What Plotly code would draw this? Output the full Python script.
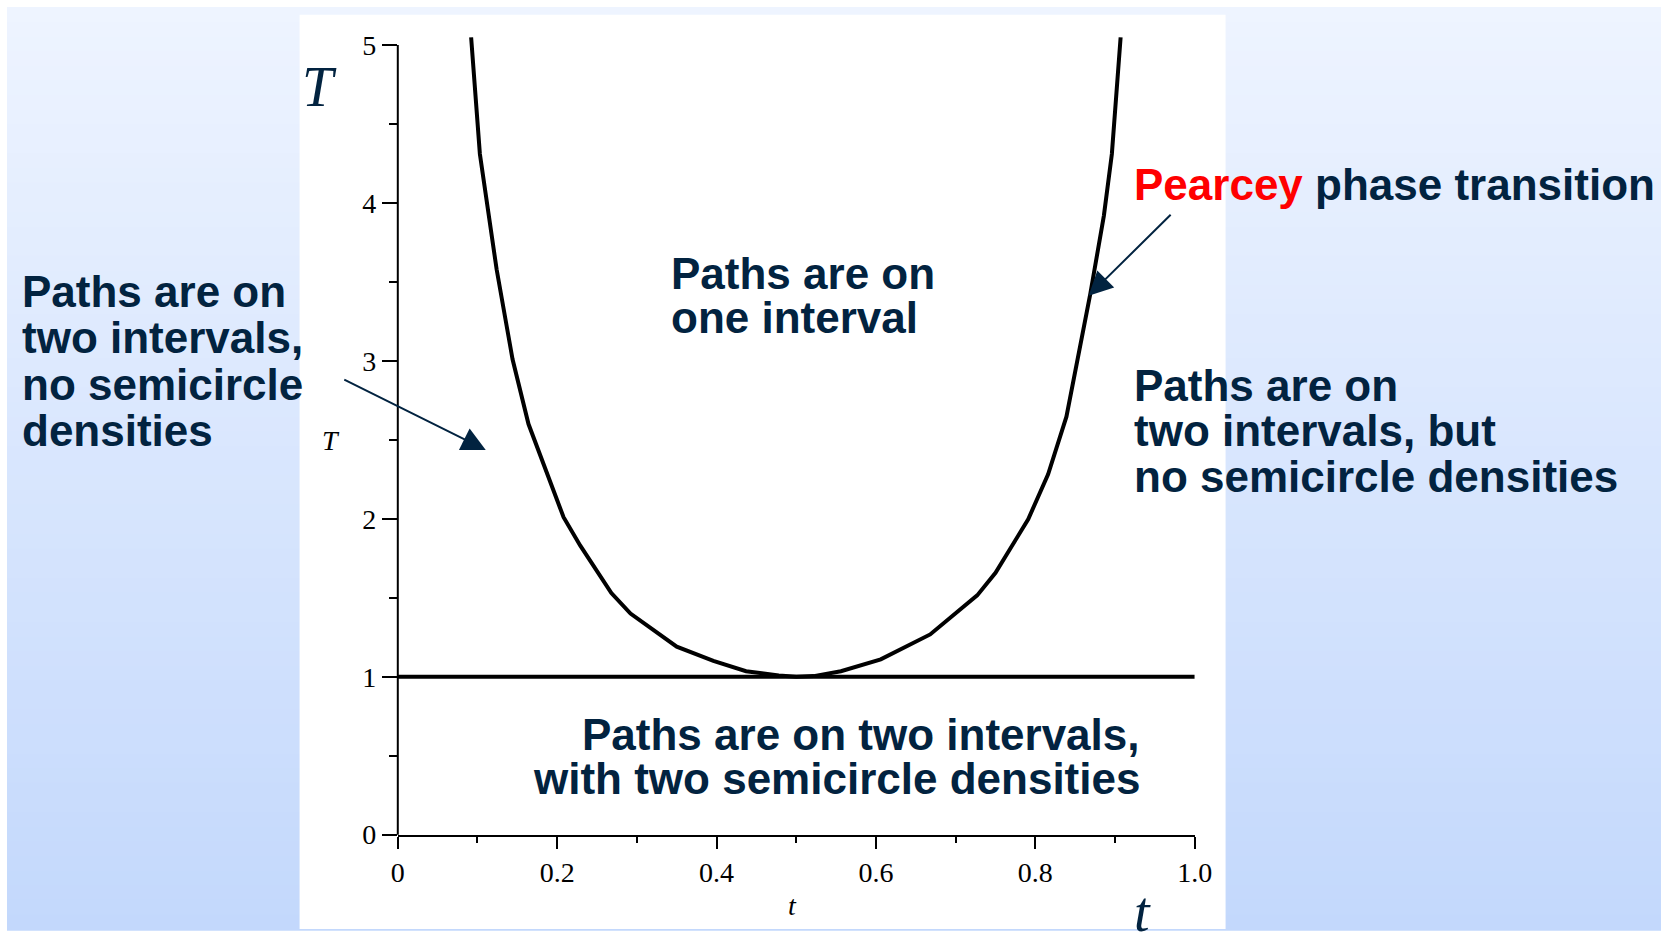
import plotly.graph_objects as go

W, H = 1679, 945

# Phase boundary T(t): the U-shaped curve
curve_t = [0.092, 0.103, 0.124, 0.144, 0.164, 0.208, 0.229, 0.268, 0.292, 0.350,
           0.396, 0.437, 0.478, 0.500, 0.522, 0.556, 0.606, 0.668, 0.727, 0.750,
           0.791, 0.816, 0.839, 0.853, 0.869, 0.886, 0.896, 0.907]
curve_T = [5.05, 4.31, 3.58, 3.01, 2.60, 2.01, 1.83, 1.53, 1.40, 1.19,
           1.10, 1.035, 1.008, 1.000, 1.004, 1.035, 1.11, 1.268, 1.515, 1.658,
           1.997, 2.282, 2.647, 3.01, 3.426, 3.92, 4.31, 5.05]

# Critical line T = 1
crit_t = [0.0, 1.0]
crit_T = [1.0, 1.0]

x_tickvals = [0, 0.2, 0.4, 0.6, 0.8, 1.0]
x_ticktext = ["0", "0.2", "0.4", "0.6", "0.8", "1.0"]
y_tickvals = [0, 1, 2, 3, 4, 5]
y_ticktext = ["0", "1", "2", "3", "4", "5"]

T_MAX = 5.05
NAVY = "#022340"
SANS = "Liberation Sans, Arial, sans-serif"
SERIF = "Liberation Serif, Times New Roman, serif"

fig = go.Figure()
fig.add_trace(go.Scatter(x=crit_t, y=crit_T, mode="lines",
                         line=dict(color="black", width=4), hoverinfo="skip"))
fig.add_trace(go.Scatter(x=curve_t, y=curve_T, mode="lines",
                         line=dict(color="black", width=4), hoverinfo="skip"))

# slide background: vertical blue gradient plus the white plot panel
top_rgb = (238, 244, 255)
bot_rgb = (195, 216, 252)
n_bands = 63
shapes = []
for i in range(n_bands):
    f = (i + 0.5) / n_bands
    c = tuple(round(a + (b - a) * f) for a, b in zip(top_rgb, bot_rgb))
    shapes.append(dict(type="rect", xref="paper", yref="paper", layer="below",
                       x0=0, x1=1, y0=1 - (i + 1) / n_bands - 0.002, y1=1 - i / n_bands,
                       fillcolor="rgb(%d,%d,%d)" % c, line=dict(width=0)))
shapes.append(dict(type="rect", xref="paper", yref="paper", layer="below",
                   x0=297 / W, x1=1237 / W, y0=0, y1=1 - 8 / H,
                   fillcolor="white", line=dict(width=0)))
# vertical axis line, 0..5
shapes.append(dict(type="line", xref="x domain", yref="y domain",
                   x0=0, x1=0, y0=0, y1=5 / T_MAX,
                   line=dict(color="black", width=2)))
fig.update_layout(shapes=shapes)

x0_px, x1_px = 396.7, 1205.7
y0_px, y5_px = 848.3, 39.0
top_px = y0_px - (y0_px - y5_px) / 5 * T_MAX

fig.update_layout(
    width=W, height=H, autosize=False,
    margin=dict(l=0, r=0, t=0, b=0),
    paper_bgcolor="white", plot_bgcolor="rgba(0,0,0,0)",
    showlegend=False,
    xaxis=dict(domain=[x0_px / W, x1_px / W], range=[0, 1],
               showline=True, linecolor="black", linewidth=2,
               showgrid=False, zeroline=False,
               ticks="outside", ticklen=12, tickwidth=2, tickcolor="black",
               tickvals=x_tickvals, ticktext=x_ticktext,
               tickfont=dict(family=SERIF, size=28, color="black"),
               minor=dict(dtick=0.1, ticks="outside", ticklen=6,
                          tickwidth=2, tickcolor="black", showgrid=False)),
    yaxis=dict(domain=[1 - y0_px / H, 1 - top_px / H], range=[0, T_MAX],
               showline=False, showgrid=False, zeroline=False,
               ticks="outside", ticklen=15, tickwidth=2, tickcolor="black",
               tickvals=y_tickvals, ticktext=y_ticktext,
               tickfont=dict(family=SERIF, size=28, color="black"),
               minor=dict(tickvals=[0.5, 1.5, 2.5, 3.5, 4.5], ticks="outside",
                          ticklen=8, tickwidth=2, tickcolor="black", showgrid=False)),
)


def label(text, x, baseline, size, color=NAVY, anchor="left",
          family=SANS, bold=True, italic=False):
    k = 0.3375 if family == SERIF else 0.3465
    center = baseline - k * size
    fig.add_annotation(xref="paper", yref="paper", x=x / W, y=1 - center / H,
                       xanchor=anchor, yanchor="middle", showarrow=False,
                       text=text, borderpad=0, borderwidth=0,
                       font=dict(family=family, size=size, color=color,
                                 weight=700 if bold else 400,
                                 style="italic" if italic else "normal"))


FS = 44
for i, line in enumerate(["Paths are on", "two intervals,", "no semicircle", "densities"]):
    label(line, 15, [307, 354.5, 402, 449.5][i], FS)
for i, line in enumerate(["Paths are on", "one interval"]):
    label(line, 674, [288, 334][i], FS)
for i, line in enumerate(["Paths are on", "two intervals, but", "no semicircle densities"]):
    label(line, 1144, [403, 449, 496][i], FS)
label('<span style="color:#ff0000">Pearcey</span> phase transition', 1144, 197.5, FS)
for i, line in enumerate(["Paths are on two intervals,", "with two semicircle densities"]):
    label(line, 1150, [761, 806][i], FS, anchor="right")

# axis titles
label("T", 328.5, 453.5, 28, color="black", anchor="center",
      family=SERIF, bold=False, italic=True)
label("t", 797.5, 930, 28, color="black", anchor="center",
      family=SERIF, bold=False, italic=True)
label("T", 317, 101, 56, anchor="center", family=SERIF, bold=False, italic=True)
label("t", 1153, 946, 56, anchor="center", family=SERIF, bold=False, italic=True)

# pointer arrows
for tip, tail in [((486, 454), (343, 383)), ((1098, 296), (1181.5, 213.5))]:
    fig.add_annotation(xref="paper", yref="paper", x=tip[0] / W, y=1 - tip[1] / H,
                       ax=tail[0] - tip[0], ay=tail[1] - tip[1], text="",
                       showarrow=True, arrowhead=2, arrowsize=2.4, arrowwidth=2,
                       arrowcolor=NAVY)

fig.write_html("out.html")
